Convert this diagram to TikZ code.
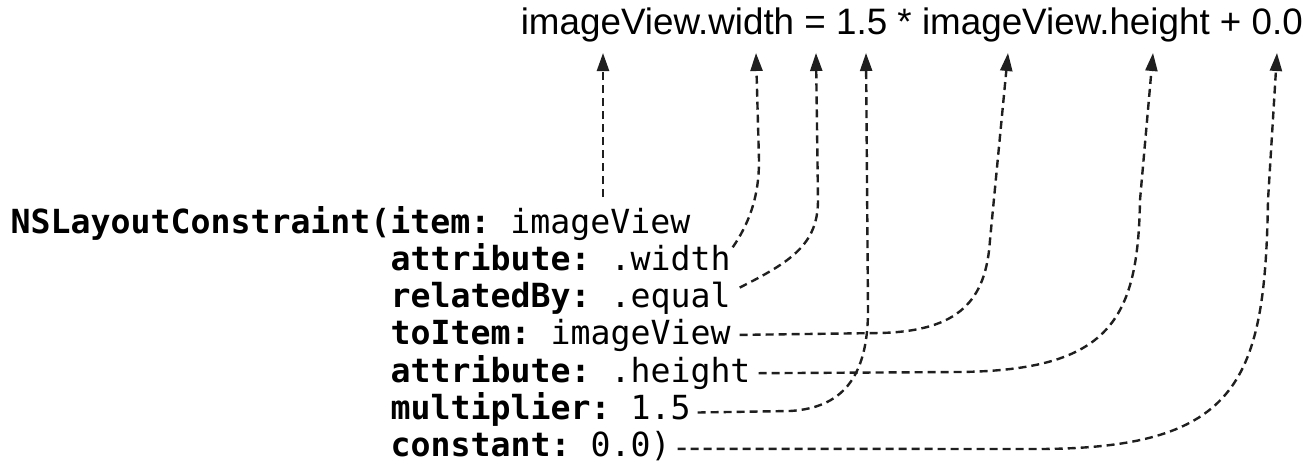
\documentclass[tikz,border=0pt]{standalone}
\usepackage{fontspec}
\usetikzlibrary{arrows.meta}
\newfontfamily\codefont{DejaVu Sans Mono}
\newfontfamily\eqfont{Liberation Sans}
\tikzset{
  code/.style={anchor=base west, inner sep=0pt, font=\codefont\fontsize{33.2}{40}\selectfont\frenchspacing},
  eqtext/.style={anchor=base west, inner sep=0pt, font=\eqfont\fontsize{36.8}{44}\selectfont},
  link/.style={draw=black!88, line width=2.4pt, dash pattern=on 8pt off 5pt,
    -{Triangle[length=18pt,width=12pt]}},
}
\begin{document}
\begin{tikzpicture}[x=1pt,y=-1pt]
\useasboundingbox (0,0) rectangle (1311,469);
\node[eqtext] (eq) at (520.6,34.5) {imageView.width = 1.5 * imageView.height + 0.0};
\node[code] (l1) at (10.5,233) {\textbf{NSLayoutConstraint(item:} imageView};
\node[code] (l2) at (390.5,270.3) {\textbf{attribute:} .width};
\node[code] (l3) at (390.5,307.6) {\textbf{relatedBy:} .equal};
\node[code] (l4) at (390.5,344.9) {\textbf{toItem:} imageView};
\node[code] (l5) at (390.5,382.2) {\textbf{attribute:} .height};
\node[code] (l6) at (390.5,419.5) {\textbf{multiplier:} 1.5};
\node[code] (l7) at (390.5,456.8) {\textbf{constant:} 0.0)};
% arrow tips under the equation
\coordinate (t1) at (603,53);
\coordinate (t2) at (756,53);
\coordinate (t3) at (816,53);
\coordinate (t4) at (866,53);
\coordinate (t5) at (1008,53);
\coordinate (t6) at (1153,53);
\coordinate (t7) at (1277,53);
% connectors
\draw[link] (603,197) -- (t1);
\draw[link] ([xshift=2pt,yshift=23pt]l2.base east) .. controls (755,215) and (759,185) .. (759,160) -- (t2);
\draw[link] ([xshift=9pt,yshift=20pt]l3.base east) .. controls (790,262) and (818,245) .. (818,200) -- (t3);
\draw[link] ([xshift=7pt,yshift=7pt]l6.base east) -- (790,411) .. controls (840,408) and (868,380) .. (868,310) -- (t4);
\draw[link] ([xshift=9pt,yshift=10pt]l4.base east) -- (880,333) .. controls (960,331) and (986,300) .. (990,240) -- (t5);
\draw[link] ([xshift=8pt,yshift=9pt]l5.base east) -- (960,372) .. controls (1110,370) and (1138,320) .. (1140,200) -- (t6);
\draw[link] ([xshift=7pt,yshift=8pt]l7.base east) -- (1040,449) .. controls (1240,448) and (1265,380) .. (1268,200) -- (t7);
\end{tikzpicture}
\end{document}
